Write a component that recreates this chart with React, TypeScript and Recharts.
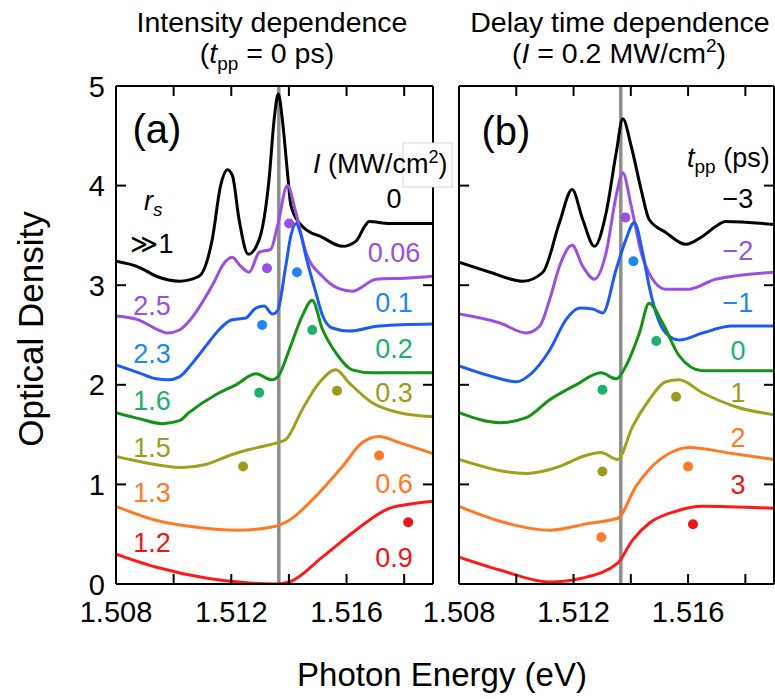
import React from "react";
import { ComposedChart, Line, Scatter, XAxis, YAxis, ReferenceLine } from "recharts";

const FONT = "'Liberation Sans', Arial, Helvetica, sans-serif";

type Pt = [number, number];

// photon energy (eV) and optical density axes
const E_DOMAIN: [number, number] = [1.508, 1.519];
const E_TICKS = [1.508, 1.51, 1.512, 1.514, 1.516, 1.518];
const OD_TICKS = [0, 1, 2, 3, 4, 5];
const GUIDE_E = 1.51365;

// curve labels
const RS_LABELS = ["≫1", "2.5", "2.3", "1.6", "1.5", "1.3", "1.2"];
const I_LABELS = ["0", "0.06", "0.1", "0.2", "0.3", "0.6", "0.9"];
const T_LABELS = ["−3", "−2", "−1", "0", "1", "2", "3"];

const LINE_C = ["#000000", "#9b4fe3", "#1d5cf2", "#149414", "#a0a01c", "#ff7a24", "#ff1a1a"];
const MARK_C = ["#000000", "#9b4fe3", "#1f88ee", "#1db06a", "#9c9c1a", "#ff7a24", "#ee1616"];

// (a) intensity dependence, t_pp = 0 ps
const A_I0: Pt[] = [[1.508, 3.24], [1.5088, 3.18], [1.5094, 3.09], [1.5102, 3.04], [1.51088, 3.09], [1.51134, 3.46], [1.51163, 4.0], [1.51187, 4.16], [1.51204, 4.1], [1.51227, 3.66], [1.51259, 3.31], [1.51297, 3.46], [1.51331, 4.06], [1.51349, 4.67], [1.51363, 4.92], [1.51377, 4.67], [1.51395, 4.13], [1.51407, 3.8], [1.51447, 3.59], [1.51516, 3.48], [1.51586, 3.39], [1.51632, 3.44], [1.51665, 3.6], [1.51678, 3.64], [1.51748, 3.62], [1.519, 3.62]];
const A_I006: Pt[] = [[1.508, 2.69], [1.5088, 2.65], [1.5094, 2.56], [1.5098, 2.52], [1.5102, 2.55], [1.5106, 2.66], [1.511, 2.83], [1.5114, 3.03], [1.5117, 3.2], [1.51203, 3.28], [1.5123, 3.2], [1.51262, 3.13], [1.51297, 3.33], [1.51337, 3.36], [1.5136, 3.59], [1.51395, 4.0], [1.51424, 3.73], [1.51459, 3.33], [1.51516, 3.09], [1.5157, 2.97], [1.5162, 2.94], [1.51703, 3.06], [1.518, 3.07], [1.519, 3.09]];
const A_I01: Pt[] = [[1.508, 2.2], [1.5088, 2.12], [1.5094, 2.06], [1.5098, 2.05], [1.5102, 2.08], [1.5106, 2.2], [1.5112, 2.42], [1.5116, 2.56], [1.512, 2.65], [1.5125, 2.67], [1.51285, 2.77], [1.51314, 2.79], [1.51343, 2.71], [1.5136, 2.74], [1.51389, 3.19], [1.51407, 3.5], [1.51425, 3.62], [1.51442, 3.5], [1.51459, 3.29], [1.51493, 2.93], [1.51516, 2.7], [1.5155, 2.57], [1.51609, 2.54], [1.51713, 2.59], [1.519, 2.61]];
const A_I02: Pt[] = [[1.508, 1.72], [1.5088, 1.66], [1.5096, 1.61], [1.5102, 1.64], [1.51053, 1.72], [1.51146, 1.9], [1.51216, 2.0], [1.51285, 2.11], [1.51342, 2.05], [1.51366, 2.1], [1.51401, 2.35], [1.51446, 2.69], [1.51481, 2.85], [1.51516, 2.56], [1.51563, 2.32], [1.5162, 2.15], [1.51689, 2.12], [1.519, 2.12]];
const A_I03: Pt[] = [[1.508, 1.28], [1.5088, 1.23], [1.51029, 1.17], [1.51111, 1.2], [1.51203, 1.3], [1.51262, 1.35], [1.51307, 1.38], [1.5136, 1.42], [1.51389, 1.45], [1.51446, 1.75], [1.51505, 2.02], [1.51563, 2.15], [1.51609, 2.02], [1.51689, 1.82], [1.51783, 1.72], [1.519, 1.68]];
const A_I06: Pt[] = [[1.508, 0.78], [1.50938, 0.64], [1.51053, 0.58], [1.51227, 0.54], [1.51354, 0.58], [1.51401, 0.64], [1.51493, 0.88], [1.51586, 1.18], [1.51655, 1.42], [1.51713, 1.48], [1.51783, 1.42], [1.519, 1.31]];
const A_I09: Pt[] = [[1.508, 0.3], [1.50938, 0.17], [1.51111, 0.06], [1.51262, 0.01], [1.51354, 0.0], [1.51401, 0.02], [1.51516, 0.27], [1.51632, 0.54], [1.51748, 0.76], [1.51817, 0.8], [1.519, 0.83]];

// (b) delay time dependence, I = 0.2 MW/cm2
const B_TM3: Pt[] = [[1.508, 3.23], [1.50908, 3.13], [1.51024, 3.04], [1.51093, 3.13], [1.51151, 3.63], [1.51195, 3.96], [1.51232, 3.66], [1.51273, 3.39], [1.51314, 3.73], [1.51349, 4.33], [1.51372, 4.67], [1.51401, 4.4], [1.51436, 3.96], [1.51464, 3.66], [1.51522, 3.53], [1.51592, 3.41], [1.5165, 3.49], [1.51696, 3.59], [1.51731, 3.64], [1.519, 3.61]];
const B_TM2: Pt[] = [[1.508, 2.71], [1.50943, 2.62], [1.51035, 2.52], [1.51082, 2.59], [1.51117, 2.86], [1.51151, 3.19], [1.51195, 3.4], [1.51232, 3.19], [1.51273, 3.06], [1.51314, 3.33], [1.51349, 3.9], [1.51372, 4.13], [1.51401, 3.8], [1.51436, 3.33], [1.51476, 3.06], [1.51522, 2.96], [1.51603, 2.96], [1.51696, 3.06], [1.519, 3.13]];
const B_TM1: Pt[] = [[1.508, 2.19], [1.50908, 2.09], [1.51001, 2.03], [1.51047, 2.1], [1.51117, 2.35], [1.51175, 2.66], [1.51221, 2.77], [1.51267, 2.76], [1.51302, 2.72], [1.51349, 3.16], [1.51383, 3.46], [1.51412, 3.63], [1.51441, 3.33], [1.51464, 2.99], [1.51488, 2.72], [1.51522, 2.52], [1.51569, 2.45], [1.5165, 2.52], [1.51754, 2.59], [1.519, 2.59]];
const B_T0: Pt[] = [[1.508, 1.72], [1.50943, 1.62], [1.51035, 1.67], [1.51117, 1.85], [1.51209, 2.0], [1.51296, 2.12], [1.51349, 2.06], [1.51383, 2.19], [1.5143, 2.52], [1.51464, 2.82], [1.51511, 2.62], [1.51569, 2.29], [1.5165, 2.14], [1.519, 2.14]];
const B_T1: Pt[] = [[1.508, 1.25], [1.51035, 1.11], [1.51151, 1.18], [1.51232, 1.28], [1.51296, 1.32], [1.51354, 1.25], [1.51406, 1.58], [1.51464, 1.85], [1.51522, 2.03], [1.51569, 2.05], [1.5165, 1.92], [1.51766, 1.78], [1.519, 1.7]];
const B_T2: Pt[] = [[1.508, 0.78], [1.50943, 0.63], [1.51117, 0.54], [1.51256, 0.61], [1.51354, 0.66], [1.51418, 0.98], [1.51464, 1.15], [1.51534, 1.31], [1.51603, 1.37], [1.51754, 1.31], [1.519, 1.25]];
const B_T3: Pt[] = [[1.508, 0.27], [1.50943, 0.14], [1.51117, 0.02], [1.51232, 0.06], [1.51354, 0.21], [1.51406, 0.44], [1.51464, 0.61], [1.51557, 0.73], [1.5165, 0.78], [1.519, 0.76]];

// peak markers (filled circles), one list per curve
const A_MARKS: Pt[][] = [
  [],
  [[1.51324, 3.17], [1.51401, 3.62]],
  [[1.51428, 3.13], [1.51307, 2.6]],
  [[1.51481, 2.55], [1.51297, 1.92]],
  [[1.51567, 1.94], [1.51241, 1.18]],
  [[1.51713, 1.29]],
  [[1.51814, 0.62]],
];
const B_MARKS: Pt[][] = [
  [],
  [[1.51381, 3.68]],
  [[1.51409, 3.24]],
  [[1.51489, 2.44], [1.51301, 1.95]],
  [[1.51558, 1.88], [1.51301, 1.13]],
  [[1.516, 1.18], [1.51297, 0.47]],
  [[1.51617, 0.6]],
];

const A_CURVES = [A_I0, A_I006, A_I01, A_I02, A_I03, A_I06, A_I09];
const B_CURVES = [B_TM3, B_TM2, B_TM1, B_T0, B_T1, B_T2, B_T3];

const rows = (pts: Pt[]) => pts.map(([e, od]) => ({ e, od }));

const axisStroke = { stroke: "#000", strokeWidth: 2 };
const TICK_LEN = 10;
// same tick length expressed in data units, for the top and right frame ticks
const TICK_OD = 0.1;
const TICK_E = 0.00035;

// tick renderers: the axis gives the tick position on the frame (tickSize 0, margin 0),
// the line is drawn inward and the label outside
const bottomTick = (p: any) => {
  const v = p.payload.value as number;
  const show = Math.round(v * 1000) % 4 === 0;
  return (
    <g>
      <line x1={p.x} x2={p.x} y1={p.y} y2={p.y - TICK_LEN} stroke="#000" strokeWidth={2} />
      {show && (
        <text x={p.x} y={p.y + 38} textAnchor="middle" fontSize={29} fontFamily={FONT} fill="#000">
          {v.toFixed(3)}
        </text>
      )}
    </g>
  );
};
const leftTick = (labels: boolean) => (p: any) => (
  <g>
    <line x1={p.x} x2={p.x + TICK_LEN} y1={p.y} y2={p.y} stroke="#000" strokeWidth={2} />
    {labels && (
      <text x={p.x - 11} y={p.y + 10.5} textAnchor="end" fontSize={29} fontFamily={FONT} fill="#000">
        {String(p.payload.value)}
      </text>
    )}
  </g>
);

function Panel({ curves, marks, left, right, yLabels }: { curves: Pt[][]; marks: Pt[][]; left: number; right: number; yLabels: boolean }) {
  return (
    <div style={{ position: "absolute", left: 0, top: 0 }}>
      <ComposedChart width={775} height={699} margin={{ top: 86, right, bottom: 75, left }}>
        <XAxis
          xAxisId="b"
          dataKey="e"
          type="number"
          domain={E_DOMAIN}
          ticks={E_TICKS}
          interval={0}
          allowDataOverflow
          height={40}
          tickSize={0}
          tickMargin={0}
          tick={bottomTick}
          tickLine={false}
          axisLine={axisStroke}
        />
        <XAxis xAxisId="t" type="number" orientation="top" mirror domain={E_DOMAIN} tick={false} tickLine={false} axisLine={axisStroke} />
        <YAxis
          yAxisId="l"
          dataKey="od"
          type="number"
          domain={[0, 5]}
          ticks={OD_TICKS}
          interval={0}
          allowDataOverflow
          width={50}
          tickSize={0}
          tickMargin={0}
          tick={leftTick(yLabels)}
          tickLine={false}
          axisLine={axisStroke}
        />
        <YAxis yAxisId="r" type="number" orientation="right" mirror domain={[0, 5]} tick={false} tickLine={false} axisLine={axisStroke} />
        {/* inward ticks on the top and right sides of the frame */}
        {E_TICKS.map((e) => (
          <ReferenceLine
            key={"tt" + e}
            xAxisId="b"
            yAxisId="l"
            segment={[{ x: e, y: 5 }, { x: e, y: 5 - TICK_OD }]}
            stroke="#000"
            strokeWidth={2}
            ifOverflow="visible"
          />
        ))}
        {OD_TICKS.map((v) => (
          <ReferenceLine
            key={"rt" + v}
            xAxisId="b"
            yAxisId="l"
            segment={[{ x: E_DOMAIN[1], y: v }, { x: E_DOMAIN[1] - TICK_E, y: v }]}
            stroke="#000"
            strokeWidth={2}
            ifOverflow="visible"
          />
        ))}
        <ReferenceLine xAxisId="b" yAxisId="l" x={GUIDE_E} stroke="#8e8e8e" strokeWidth={3.5} />
        {curves.map((pts, i) => (
          <Line
            key={"c" + i}
            xAxisId="b"
            yAxisId="l"
            data={rows(pts)}
            dataKey="od"
            type="monotone"
            stroke={LINE_C[i]}
            strokeWidth={3}
            dot={false}
            activeDot={false}
            isAnimationActive={false}
          />
        ))}
        {marks.map((pts, i) =>
          pts.length ? (
            <Scatter
              key={"m" + i}
              xAxisId="b"
              yAxisId="l"
              data={rows(pts)}
              dataKey="od"
              isAnimationActive={false}
              shape={(p: any) => <circle cx={p.cx} cy={p.cy} r={5} fill={MARK_C[i]} />}
            />
          ) : null
        )}
      </ComposedChart>
    </div>
  );
}

const RS_Y = [253, 315, 363, 410, 457, 502, 552];
const I_Y = [208, 262, 312, 358, 402, 493, 567];
const T_Y = [208, 260, 312, 360, 402, 447, 494];

function Overlay() {
  const lbl = 27;
  return (
    <svg width={775} height={699} style={{ position: "absolute", left: 0, top: 0, pointerEvents: "none" }} fontFamily={FONT}>
      <g fontSize={28.5} textAnchor="middle" fill="#000">
        <text x={272} y={32}>Intensity dependence</text>
        <text x={267} y={63}>
          (<tspan fontStyle="italic">t</tspan>
          <tspan fontSize={19} dy={7}>pp</tspan>
          <tspan dy={-7}> = 0 ps)</tspan>
        </text>
        <text x={620} y={32}>Delay time dependence</text>
        <text x={619} y={63}>
          (<tspan fontStyle="italic">I</tspan> = 0.2 MW/cm<tspan fontSize={19} dy={-11}>2</tspan>
          <tspan dy={11}>)</tspan>
        </text>
      </g>
      <text x={157} y={143} fontSize={40} textAnchor="middle">(a)</text>
      <text x={506} y={145} fontSize={40} textAnchor="middle">(b)</text>

      <text x={144} y={210} fontSize={lbl} fontStyle="italic">
        r<tspan fontSize={19} dy={6}>s</tspan>
      </text>
      {RS_LABELS.map((s, i) => (
        <text key={"rs" + i} x={152} y={RS_Y[i]} fontSize={lbl} textAnchor="middle" fill={MARK_C[i]}>{s}</text>
      ))}

      <rect x={403} y={143} width={49} height={44} fill="#fff" stroke="#d4d4d4" strokeWidth={1} />
      <text x={313} y={173} fontSize={lbl}>
        <tspan fontStyle="italic">I</tspan> (MW/cm<tspan fontSize={18} dy={-10}>2</tspan>
        <tspan dy={10}>)</tspan>
      </text>
      {I_LABELS.map((s, i) => (
        <text key={"i" + i} x={394} y={I_Y[i]} fontSize={lbl} textAnchor="middle" fill={MARK_C[i]}>{s}</text>
      ))}

      <text x={687} y={167} fontSize={lbl}>
        <tspan fontStyle="italic">t</tspan>
        <tspan fontSize={19} dy={6}>pp</tspan>
        <tspan dy={-6}> (ps)</tspan>
      </text>
      {T_LABELS.map((s, i) => (
        <text key={"t" + i} x={738} y={T_Y[i]} fontSize={lbl} textAnchor="middle" fill={MARK_C[i]}>{s}</text>
      ))}

      <text x={43} y={329} fontSize={35} textAnchor="middle" transform="rotate(-90 43 329)">Optical Density</text>
      <text x={442} y={686} fontSize={33} textAnchor="middle">Photon Energy (eV)</text>
    </svg>
  );
}

export default function App() {
  return (
    <div style={{ position: "absolute", left: 0, top: 0, width: 775, height: 699, background: "#fff" }}>
      <Panel curves={A_CURVES} marks={A_MARKS} left={66} right={342} yLabels />
      <Panel curves={B_CURVES} marks={B_MARKS} left={409} right={1} yLabels={false} />
      <Overlay />
    </div>
  );
}
